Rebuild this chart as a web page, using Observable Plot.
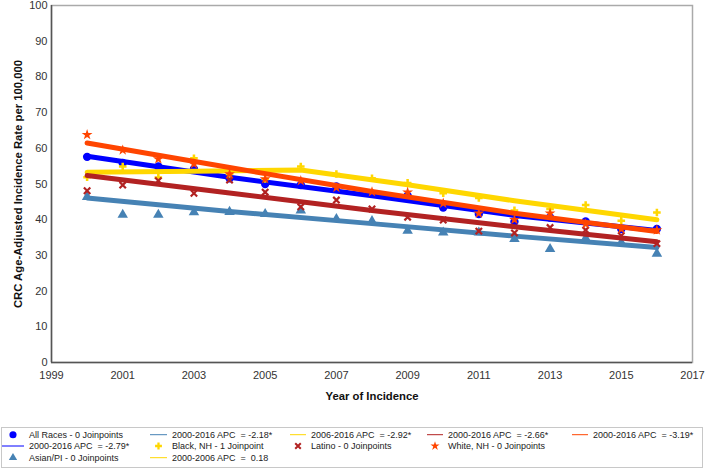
<!DOCTYPE html>
<html><head><meta charset="utf-8">
<script src="https://cdn.jsdelivr.net/npm/d3@7"></script>
<script src="https://cdn.jsdelivr.net/npm/@observablehq/plot@0.6"></script>
<style>
body{margin:0;background:#fff;}
#chart{width:709px;height:425px;}
#legend{position:relative;width:709px;height:44px;font-family:"Liberation Sans",Arial,sans-serif;font-size:9px;color:#222;}
#legend .box{position:absolute;left:1px;top:2px;width:700px;height:39px;border:1px solid #c8c8c8;}
#legend .item{position:absolute;white-space:pre;line-height:11px;transform:translateY(-50%);}
#legend svg{position:absolute;overflow:visible;}
</style></head><body><div id="chart"></div><div id="legend"></div>
<script>
const years = [2000,2001,2002,2003,2004,2005,2006,2007,2008,2009,2010,2011,2012,2013,2014,2015,2016];
const allRaces = [57.6,55.9,54.9,54.2,51.6,50.0,49.7,49.3,47.3,46.7,43.4,41.6,39.4,40.6,39.5,37.4,37.4];
const asianPI  = [46.4,41.4,41.4,42.1,42.2,41.6,42.6,40.2,39.6,36.9,36.4,36.4,34.6,31.8,34.8,33.6,30.5];
const blackNH  = [51.9,54.9,51.8,57.2,52.8,51.4,54.9,52.8,51.6,50.3,47.4,46.1,42.6,43.0,44.1,39.7,42.0];
const latino   = [48.1,49.7,50.9,47.4,51.1,47.7,43.6,45.5,43.0,40.7,39.9,36.8,36.3,37.8,37.1,35.5,33.3];
const whiteNH  = [63.8,59.5,57.0,55.6,52.8,51.4,50.9,49.0,47.8,47.7,44.6,41.8,40.0,41.8,38.8,37.4,37.1];

// fitted (joinpoint) lines
const fitYears = [2000,2004,2008,2012,2016];
const fitAll    = [57.8,51.9,46.7,41.2,37.0];
const fitAsian  = [46.1,42.3,38.9,35.4,32.2];
const fitLatino = [52.4,47.5,42.6,38.0,33.8];
const fitWhite  = [61.5,54.6,47.9,41.8,36.7];
const fitBlackYears = [2000,2003,2006,2009,2012,2016];
const fitBlack  = [53.3,53.6,53.9,49.8,45.3,40.0];

const xTicks = [1999,2001,2003,2005,2007,2009,2011,2013,2015,2017];
const yTicks = [0,10,20,30,40,50,60,70,80,90,100];
const xTitle = "Year of Incidence";
const yTitle = "CRC Age-Adjusted Incidence Rate per 100,000";

const series = [
  {name:"All Races", vals: allRaces, fy: fitYears, fv: fitAll, color:"#0000ff", symbol:"circle", r:4.2},
  {name:"Asian/PI", vals: asianPI, fy: fitYears, fv: fitAsian, color:"#4682b4", symbol:"triangle", r:3.9},
  {name:"Black, NH", vals: blackNH, fy: fitBlackYears, fv: fitBlack, color:"#ffd700", symbol:"cross", r:3.2},
  {name:"Latino", vals: latino, fy: fitYears, fv: fitLatino, color:"#b22222", symbol:"times", r:3.0, stroked:true},
  {name:"White, NH", vals: whiteNH, fy: fitYears, fv: fitWhite, color:"#ff4500", symbol:"star", r:3.4}
];

const marks = [
  Plot.frame({stroke:"#aaa", strokeWidth:1.5}),
  Plot.ruleX([1999], {stroke:"#555", strokeWidth:1.5}),
  Plot.ruleY([0], {stroke:"#555", strokeWidth:1.5})
];
for (const s of series) {
  const pts = years.map((y,i)=>({year:y, value:s.vals[i]}));
  const fit = s.fy.map((y,i)=>({year:y, value:s.fv[i]}));
  marks.push(Plot.line(fit, {x:"year", y:"value", stroke:s.color, strokeWidth:5}));
  if (s.stroked) {
    marks.push(Plot.dot(pts, {x:"year", y:"value", symbol:s.symbol, fill:"none", stroke:s.color, strokeWidth:2.2, r:s.r}));
  } else {
    marks.push(Plot.dot(pts, {x:"year", y:"value", symbol:s.symbol, fill:s.color, stroke:"none", r:s.r}));
  }
}
marks.push(Plot.text([xTitle], {text:d=>d, frameAnchor:"bottom", dy:37, fontWeight:"bold", fontSize:11.3, fill:"#111"}));
marks.push(Plot.text([yTitle], {text:d=>d, frameAnchor:"left", textAnchor:"middle", dx:-33, rotate:-90, fontWeight:"bold", fontSize:11.3, fill:"#111"}));

const chart = Plot.plot({
  width:709, height:425,
  marginLeft:51, marginRight:17, marginTop:5, marginBottom:63,
  style:{fontFamily:"'Liberation Sans', Arial, sans-serif", fontSize:"11px", color:"#333", background:"#fff"},
  x:{domain:[1999,2017], ticks:xTicks, tickFormat:d=>String(d), tickSize:0, tickPadding:9, label:null},
  y:{domain:[0,100], ticks:yTicks, tickSize:0, tickPadding:4, label:null},
  marks
});
document.getElementById("chart").appendChild(chart);

// legend
const legendLabels = ["All Races - 0 Joinpoints","2000-2016 APC  = -2.79*","Asian/PI - 0 Joinpoints",
  "2000-2016 APC  = -2.18*","Black, NH - 1 Joinpoint","2000-2006 APC  =  0.18",
  "2006-2016 APC  = -2.92*","Latino - 0 Joinpoints",
  "2000-2016 APC  = -2.66*","White, NH - 0 Joinpoints",
  "2000-2016 APC  = -3.19*"];
const legendKinds = [["circle","#0000ff"],["line","#0000ff"],["triangle","#4682b4"],
  ["line","#4682b4"],["cross","#ffd700"],["line","#ffd700"],
  ["line","#ffd700"],["times","#b22222"],
  ["line","#b22222"],["star","#ff4500"],
  ["line","#ff4500"]];
const legendCol = [0,0,0,1,1,1,2,2,3,3,4];
const legendRow = [0,1,2,0,1,2,0,1,0,1,0];
const colLine = [[2,24],[150,167],[290,306],[427,443],[572,588]];
const colText = [29,172,311,448,593];
const rowY = [9.7,21,32.7];
const symMap = {circle:d3.symbolCircle, triangle:d3.symbolTriangle, cross:d3.symbolCross, times:d3.symbolTimes, star:d3.symbolStar};
const symSize = {circle:40, triangle:30, cross:26, times:22, star:26};

const leg = document.getElementById("legend");
const box = document.createElement("div"); box.className="box"; leg.appendChild(box);
const ns = "http://www.w3.org/2000/svg";
legendLabels.forEach((lab,i)=>{
  const c = legendCol[i], r = legendRow[i];
  const [kind,color] = legendKinds[i];
  const svg = document.createElementNS(ns,"svg");
  svg.setAttribute("width",1); svg.setAttribute("height",1);
  svg.style.left="0px"; svg.style.top="0px";
  if (kind==="line") {
    const l = document.createElementNS(ns,"line");
    l.setAttribute("x1",colLine[c][0]); l.setAttribute("x2",colLine[c][1]);
    l.setAttribute("y1",rowY[r]); l.setAttribute("y2",rowY[r]);
    l.setAttribute("stroke",color); l.setAttribute("stroke-width",1);
    svg.appendChild(l);
  } else {
    const p = document.createElementNS(ns,"path");
    const cx = (colLine[c][0]+colLine[c][1])/2;
    p.setAttribute("d", d3.symbol(symMap[kind], symSize[kind])());
    p.setAttribute("transform",`translate(${cx},${rowY[r]})`);
    if (kind==="times") {
      p.setAttribute("fill","none"); p.setAttribute("stroke",color); p.setAttribute("stroke-width",2);
    } else {
      p.setAttribute("fill",color);
    }
    svg.appendChild(p);
  }
  leg.appendChild(svg);
  const t = document.createElement("div"); t.className="item";
  t.style.left = colText[c]+"px"; t.style.top = rowY[r]+"px";
  t.textContent = lab;
  leg.appendChild(t);
});
</script>
</body></html>
